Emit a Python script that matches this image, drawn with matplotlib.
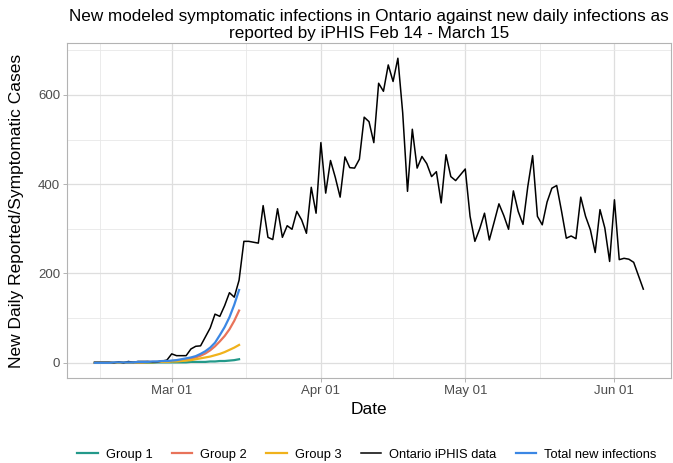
import matplotlib
matplotlib.use('Agg')
import matplotlib.pyplot as plt
import matplotlib.dates as mdates
from matplotlib.ticker import MultipleLocator
import pandas as pd

plt.rcParams['font.family'] = ['Liberation Sans', 'DejaVu Sans']

# observed daily cases (iPHIS), Feb 14 - Jun 7
ontario = [1, 1, 1, 1, 0, 2, 0, 3, 1, 3, 3, 3, 2, 2, 4, 6,
           20, 16, 16, 16, 31, 37, 38, 58, 78, 109, 104, 128, 157, 147, 185,
           272, 272, 270, 268, 352, 281, 276, 345, 281, 307, 299, 339, 320, 290,
           393, 335, 493, 380, 453, 415, 371, 461, 437, 436, 456, 550, 540, 493,
           626, 608, 667, 630, 682, 560, 384, 523, 436, 462, 446, 417, 428, 358,
           466, 417, 408, 421, 434, 328, 272, 300, 335, 275, 315, 356, 330, 299,
           385, 339, 310, 395, 464, 328, 309, 360, 391, 397, 340, 279, 284, 278,
           371, 328, 298, 247, 343, 302, 227, 365, 231, 234, 232, 225, 195, 165]
obs_dates = pd.date_range('2020-02-14', periods=len(ontario))

# modelled new symptomatic infections, Feb 14 - Mar 15
group1 = [0, 0, 0, 0, 0, 0, 0, 0, 0, 0, 0, 0, 0, 1, 1, 1,
          1, 1, 1, 1, 2, 2, 2, 2, 3, 3, 4, 4, 5, 6, 8]
group2 = [0, 0, 0, 0, 0, 1, 1, 1, 1, 1, 1, 2, 2, 2, 3, 3,
          4, 5, 6, 7, 9, 12, 16, 21, 28, 37, 48, 60, 75, 94, 117]
group3 = [0, 0, 0, 0, 0, 0, 1, 1, 1, 1, 1, 1, 1, 2, 2, 2,
          3, 3, 4, 5, 6, 8, 10, 12, 14, 17, 20, 24, 29, 34, 40]
total = [0, 0, 0, 0, 1, 1, 1, 1, 1, 2, 2, 2, 3, 3, 4, 4,
         5, 6, 8, 10, 12, 15, 20, 26, 34, 45, 62, 80, 102, 130, 163]
model_dates = pd.date_range('2020-02-14', periods=len(total))

fig = plt.figure(figsize=(6.73, 4.63), dpi=100)
ax = fig.add_axes([0.0996, 0.1836, 0.8974, 0.7234])

ax.plot(model_dates, group1, color='#23998a', lw=1.6, label='Group 1')
ax.plot(model_dates, group2, color='#e8735a', lw=1.6, label='Group 2')
ax.plot(model_dates, group3, color='#f0b21c', lw=1.6, label='Group 3')
ax.plot(obs_dates, ontario, color='black', lw=1.1, label='Ontario iPHIS data')
ax.plot(model_dates, total, color='#3b87e4', lw=1.6, label='Total new infections')

pad = pd.Timedelta(days=len(ontario) * 0.05)
ax.set_xlim(obs_dates[0] - pad, obs_dates[-1] + pad)
ax.set_ylim(-34, 716)

ax.xaxis.set_major_locator(mdates.MonthLocator())
ax.xaxis.set_major_formatter(mdates.DateFormatter('%b %d'))
minor = pd.to_datetime(['2020-02-15 00:00', '2020-03-16 12:00',
                        '2020-04-16 00:00', '2020-05-16 12:00'])
ax.set_xticks(mdates.date2num(minor), minor=True)
ax.yaxis.set_major_locator(MultipleLocator(200))
ax.yaxis.set_minor_locator(MultipleLocator(100))

ax.grid(which='major', color='#dedede', lw=0.9)
ax.grid(which='minor', color='#e8e8e8', lw=0.6)
ax.set_axisbelow(True)
for s in ax.spines.values():
    s.set_color('#b3b3b3')
    s.set_linewidth(0.8)
ax.tick_params(which='major', length=3, width=0.7, color='#b3b3b3',
               labelsize=9.5, labelcolor='#4d4d4d', pad=2)
ax.tick_params(which='minor', length=0)

ax.set_xlabel('Date', fontsize=12.5, labelpad=4)
ax.set_ylabel('New Daily Reported/Symptomatic Cases', fontsize=12.5, labelpad=10)
ax.set_title('New modeled symptomatic infections in Ontario against new daily infections as\n'
             'reported by iPHIS Feb 14 - March 15', fontsize=12.3, linespacing=1.15, pad=4)

fig.legend(loc='center', bbox_to_anchor=(0.545, 0.018), ncol=5, frameon=False,
           fontsize=9.3, handlelength=1.6, columnspacing=1.5, handletextpad=0.6)

fig.savefig('out.png', dpi=100)
